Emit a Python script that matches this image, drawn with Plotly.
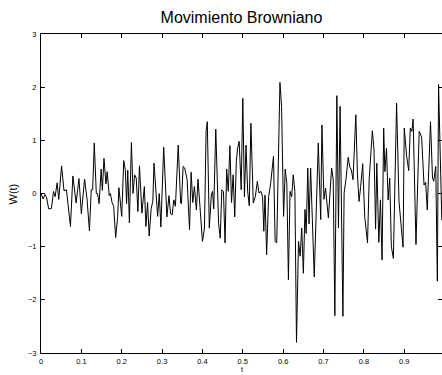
import plotly.graph_objects as go

# values
t_vals = [0.000, 0.005, 0.010, 0.014, 0.019, 0.026, 0.031, 0.035, 0.040, 0.044,
          0.051, 0.057, 0.063, 0.073, 0.079, 0.087, 0.094, 0.100, 0.108, 0.114,
          0.120, 0.1245, 0.128, 0.132, 0.137, 0.140, 0.144, 0.149, 0.152, 0.156,
          0.161, 0.164, 0.169, 0.172, 0.176, 0.180, 0.185, 0.190, 0.193, 0.200,
          0.205, 0.209, 0.212, 0.215, 0.219, 0.224, 0.228, 0.232, 0.236, 0.240,
          0.244, 0.250, 0.256, 0.260, 0.264, 0.268, 0.273, 0.277, 0.280, 0.285,
          0.289, 0.293, 0.297, 0.304, 0.312, 0.317, 0.321, 0.325, 0.329, 0.333,
          0.340, 0.346, 0.348, 0.352, 0.356, 0.362, 0.368, 0.372, 0.376, 0.380,
          0.385, 0.389, 0.393, 0.400, 0.405, 0.409, 0.412, 0.417, 0.422, 0.425,
          0.428, 0.433, 0.440, 0.444, 0.448, 0.452, 0.456, 0.460, 0.464, 0.468,
          0.472, 0.476, 0.480, 0.484, 0.487, 0.491, 0.496, 0.500, 0.504, 0.508,
          0.512, 0.516, 0.520, 0.526, 0.531, 0.536, 0.540, 0.545, 0.549, 0.552,
          0.555, 0.559, 0.564, 0.569, 0.576, 0.580, 0.584, 0.592, 0.596, 0.601,
          0.605, 0.609, 0.613, 0.617, 0.621, 0.625, 0.629, 0.633, 0.638, 0.642,
          0.646, 0.650, 0.654, 0.657, 0.661, 0.664, 0.668, 0.677, 0.687, 0.693,
          0.696, 0.701, 0.705, 0.712, 0.720, 0.724, 0.728, 0.733, 0.737, 0.741,
          0.748, 0.751, 0.756, 0.761, 0.765, 0.769, 0.773, 0.780, 0.784, 0.788,
          0.792, 0.797, 0.802, 0.809, 0.813, 0.821, 0.825, 0.829, 0.832, 0.837,
          0.841, 0.845, 0.849, 0.852, 0.856, 0.860, 0.864, 0.868, 0.873, 0.881,
          0.887, 0.892, 0.897, 0.900, 0.906, 0.911, 0.915, 0.919, 0.922, 0.929,
          0.937, 0.943, 0.949, 0.953, 0.957, 0.965, 0.970, 0.973, 0.978, 0.982,
          0.985, 0.993]
w_vals = [0.00, -0.10, -0.02, -0.08, -0.29, -0.28, 0.04, -0.06, 0.20, -0.11,
          0.52, 0.05, 0.07, -0.62, 0.33, -0.18, 0.28, -0.38, 0.27, -0.10,
          -0.70, 0.07, 0.07, 0.95, 0.00, 0.00, -0.19, 0.46, 0.06, 0.66,
          0.18, 0.41, -0.04, 0.00, -0.17, -0.24, -0.83, -0.43, 0.11, -0.43,
          0.62, 0.44, -0.19, 0.44, -0.55, 0.96, 0.00, 0.35, 0.29, -0.34,
          0.52, -0.37, 0.13, -0.62, -0.17, -0.80, -0.28, -0.15, 0.57, -0.12,
          -0.43, 0.00, -0.63, 0.87, -0.44, -0.04, -0.38, -0.40, -0.12, -0.24,
          0.91, -0.18, -0.19, 0.51, 0.48, 0.26, -0.68, 0.40, -0.17, 0.13,
          -0.31, 0.27, -0.24, -0.90, -0.65, 1.17, 1.35, -0.65, -0.03, 0.04,
          -0.29, 1.21, -0.56, -0.84, 0.07, 0.04, -0.93, 0.46, 0.04, 0.90,
          -0.17, 0.35, -0.44, 0.60, 0.85, 0.98, 0.07, 1.79, -0.06, 0.91,
          0.04, -0.23, 1.32, -0.18, -0.06, 0.23, 0.01, 0.04, -0.07, -0.71,
          -0.03, -1.15, -0.06, 0.19, 0.70, -0.90, -0.93, 2.09, 1.64, -0.43,
          0.46, 0.19, -1.62, 0.04, -0.06, 0.35, 0.04, -2.80, -0.90, -1.18,
          -0.65, -1.50, -0.30, -0.75, 0.48, -0.57, 0.48, -1.57, 0.95, -0.49,
          1.29, -0.11, 0.10, -0.46, 0.48, 0.26, -2.30, 1.84, -0.65, 1.64,
          -2.31, 0.01, 0.29, 0.68, 0.50, 0.44, 0.26, 1.48, 0.35, -0.15,
          0.13, 0.56, -0.43, -0.93, 0.26, 1.18, 0.83, -0.67, 0.57, -0.92,
          -0.12, -1.25, 1.23, 0.41, 0.85, -0.12, 0.29, -1.00, -1.22, 1.70,
          -0.15, -0.56, -1.01, 1.23, 0.70, 0.43, 1.23, 1.17, 1.40, -0.96,
          1.17, 1.06, 0.16, 0.21, -0.31, 1.35, 0.29, 0.23, 0.51, -1.65,
          2.05, -0.50]

x_ticks = [0, 0.1, 0.2, 0.3, 0.4, 0.5, 0.6, 0.7, 0.8, 0.9]
x_tick_labels = ["0", "0.1", "0.2", "0.3", "0.4", "0.5", "0.6", "0.7", "0.8", "0.9"]
y_ticks = [-3, -2, -1, 0, 1, 2, 3]
y_tick_labels = ["\u22123", "\u22122", "\u22121", "0", "1", "2", "3"]

FONT = "Liberation Sans, Arial, Helvetica, sans-serif"

fig = go.Figure()
fig.add_trace(go.Scatter(x=t_vals, y=w_vals, mode="lines",
                         line=dict(color="black", width=1), showlegend=False,
                         hoverinfo="skip"))

tick_common = dict(ticks="inside", ticklen=4, tickcolor="black", tickwidth=1,
                   showgrid=False, zeroline=False,
                   tickfont=dict(family=FONT, size=7.5, color="black"))

fig.update_layout(
    xaxis=dict(range=[0, 0.9935], tickmode="array", tickvals=x_ticks,
               ticktext=x_tick_labels, ticklabelstandoff=1,
               showline=True, linecolor="black", linewidth=1, mirror="ticks",
               **tick_common),
    yaxis=dict(range=[-3, 3], tickmode="array", tickvals=y_ticks,
               ticktext=y_tick_labels, ticklabelstandoff=2,
               showline=True, linecolor="black", linewidth=1, mirror=False,
               **tick_common),
    yaxis2=dict(range=[-3, 3], tickmode="array", tickvals=y_ticks,
                overlaying="y", side="right", showline=False,
                showticklabels=False, **tick_common),
)

# invisible helper trace to activate right-side tick marks
fig.add_trace(go.Scatter(x=[None], y=[None], yaxis="y2", showlegend=False,
                         hoverinfo="skip"))

fig.update_layout(
    width=442, height=375,
    margin=dict(l=41, r=0, t=34, b=22),
    paper_bgcolor="white", plot_bgcolor="white",
    title=dict(text="Movimiento Browniano", x=0.5, xref="paper", xanchor="center",
               y=1 - 17 / 375, yref="container", yanchor="middle",
               font=dict(family=FONT, size=16, color="black")),
    annotations=[
        dict(text="t", x=0.5, xref="paper", y=-16.5 / 319, yref="paper",
             xanchor="center", yanchor="middle", showarrow=False, borderpad=0,
             font=dict(family=FONT, size=7, color="black")),
        dict(text="W(t)", x=-29 / 401, xref="paper", y=0.5, yref="paper",
             xanchor="center", yanchor="middle", showarrow=False, textangle=-90,
             font=dict(family=FONT, size=11, color="black")),
    ],
)

fig.write_html("out.html")
